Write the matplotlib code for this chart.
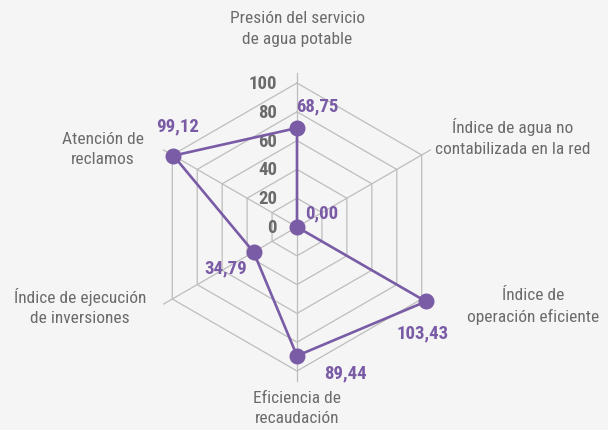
import numpy as np
import matplotlib
matplotlib.use("Agg")
import matplotlib.pyplot as plt
from matplotlib import font_manager

# Indicator names (one per radar axis, clockwise from the top)
categories = [
    "Presión del servicio\nde agua potable",
    "Índice de agua no\ncontabilizada en la red",
    "Índice de\noperación eficiente",
    "Eficiencia de\nrecaudación",
    "Índice de ejecución\nde inversiones",
    "Atención de\nreclamos",
]
values = [68.75, 0.00, 103.43, 89.44, 34.79, 99.12]
value_labels = ["68,75", "0,00", "103,43", "89,44", "34,79", "99,12"]
ring_levels = [0, 20, 40, 60, 80, 100]

PURPLE = "#7a5ba6"
GRID = "#bdbdbd"
TEXT = "#6b6b6b"
BG = "#f5f5f5"

installed = {f.name for f in font_manager.fontManager.ttflist}
condensed = next((f for f in ["Roboto Condensed", "Liberation Sans Narrow",
                              "Open Sans Condensed"] if f in installed), None)
if condensed:
    plt.rcParams["font.family"] = [condensed, "DejaVu Sans"]
    title_size, num_size = 12.5, 13.5
else:
    plt.rcParams["font.family"] = ["Roboto", "DejaVu Sans"]
    title_size, num_size = 11.5, 13

fig = plt.figure(figsize=(6.08, 4.31), dpi=100, facecolor=BG)
ax = fig.add_axes([0, 0, 1, 1])
ax.set_facecolor(BG)
ax.set_xlim(-206.25, 215.97)
ax.set_ylim(-140.97, 158.33)
ax.set_aspect("equal")
ax.axis("off")

n = len(categories)
angles = np.deg2rad(90 - np.arange(n) * 360 / n)
cosa, sina = np.cos(angles), np.sin(angles)

# hexagonal rings
for lv in ring_levels[1:]:
    xs = np.append(lv * cosa, lv * cosa[0])
    ys = np.append(lv * sina, lv * sina[0])
    ax.plot(xs, ys, color=GRID, lw=0.9, zorder=1)
# spokes
spoke_len = 107
for c, s in zip(cosa, sina):
    ax.plot([0, spoke_len * c], [0, spoke_len * s], color=GRID, lw=0.9, zorder=1)

# radial tick labels beside the top spoke
for lv in ring_levels:
    ax.annotate(str(lv), (0, lv), xytext=(-20, 0), textcoords="offset pixels",
                ha="right", va="center", fontsize=num_size, fontweight="bold",
                color=TEXT, zorder=3)

# data polygon
v = np.array(values)
px, py = v * cosa, v * sina
ax.plot(np.append(px, px[0]), np.append(py, py[0]), color=PURPLE, lw=1.9,
        zorder=4, solid_joinstyle="round")
ax.plot(px, py, "o", color=PURPLE, ms=10.5, zorder=5)

# value labels
label_offsets = [(20, 23), (25, 15), (-3, -31), (48, -17), (-28, -15), (4, 30)]
for x, y, txt, off in zip(px, py, value_labels, label_offsets):
    ax.annotate(txt, (x, y), xytext=off, textcoords="offset pixels",
                ha="center", va="center", fontsize=num_size, fontweight="bold",
                color=PURPLE, zorder=6)

# axis titles
title_pos = [(0, 138.2), (150, 62.8), (163.9, -54.5),
             (0, -125.3), (-150.7, -54.9), (-134.7, 54.5)]
for (x, y), name in zip(title_pos, categories):
    ax.text(x, y, name, ha="center", va="center", fontsize=title_size,
            color=TEXT, linespacing=1.45)

fig.savefig("out.png", dpi=100, facecolor=BG)
